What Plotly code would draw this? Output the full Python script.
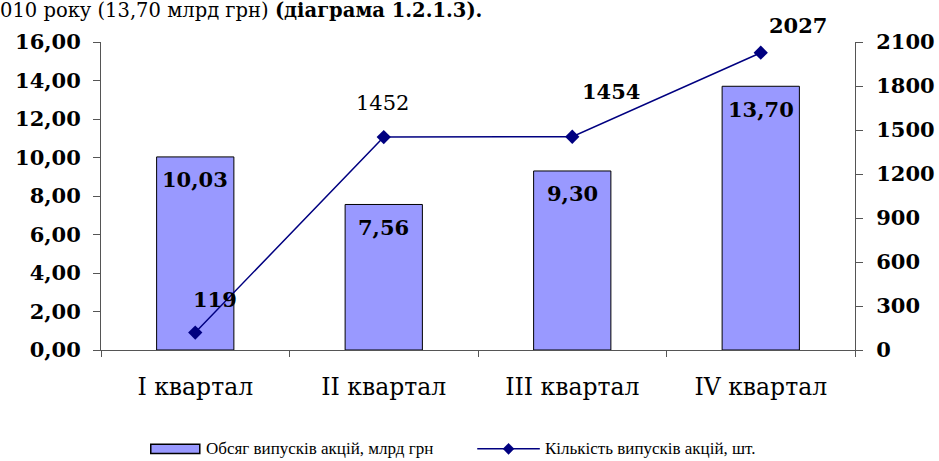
import plotly.graph_objects as go

categories = ["I квартал", "II квартал", "III квартал", "IV квартал"]
volume = [10.03, 7.56, 9.30, 13.70]          # млрд грн
count = [119, 1452, 1454, 2027]              # шт.
volume_labels = ["10,03", "7,56", "9,30", "13,70"]
count_labels = ["119", "1452", "1454", "2027"]
legend_names = ["Обсяг випусків акцій, млрд грн", "Кількість випусків акцій, шт."]

SERIF = "DejaVu Serif, Liberation Serif, serif"
NAVY = "#000080"

fig = go.Figure()
fig.add_trace(go.Bar(
    x=categories, y=volume, name=legend_names[0],
    marker=dict(color="#9999FF", line=dict(color="black", width=1)),
    width=0.41, showlegend=False,
))
fig.add_trace(go.Scatter(
    x=categories, y=count, name=legend_names[1],
    yaxis="y2", mode="lines+markers", showlegend=False,
    line=dict(color=NAVY, width=1.5),
    marker=dict(symbol="diamond", size=11, color=NAVY),
))

# bar value labels (inside, near top)
for c, v, t in zip(categories, volume, volume_labels):
    fig.add_annotation(x=c, y=v, yref="y", text="<b>%s</b>" % t, showarrow=False,
                       yanchor="middle", yshift=-23,
                       font=dict(family=SERIF, size=21, color="black"))

# line labels
offsets = [(20, 33), (-1, 34), (39, 45), (37, 27)]
bold = [True, False, True, True]
for c, v, t, (dx, dy), b in zip(categories, count, count_labels, offsets, bold):
    fig.add_annotation(x=c, y=v, yref="y2", text=("<b>%s</b>" % t) if b else t,
                       showarrow=False, xshift=dx, yshift=dy,
                       font=dict(family=SERIF, size=21, color="black"))

# cut-off caption line at the very top
fig.add_annotation(xref="paper", yref="paper", x=-0.136, y=1.146,
                   xanchor="left", yanchor="top", showarrow=False,
                   text="010 року (13,70 млрд грн) <b>(діаграма 1.2.1.3).</b>",
                   font=dict(family=SERIF, size=19.5, color="black"))

# custom legend (wide rectangle symbol + line with diamond)
LEG_Y = -0.321
fig.add_shape(type="rect", xref="paper", yref="paper",
              x0=0.066, x1=0.131, y0=LEG_Y - 0.015, y1=LEG_Y + 0.015,
              fillcolor="#9999FF", line=dict(color="black", width=1.5))
fig.add_annotation(xref="paper", yref="paper", x=0.137, y=LEG_Y, xanchor="left",
                   yanchor="middle", showarrow=False, text=legend_names[0],
                   font=dict(family="Liberation Serif, serif", size=17, color="black"))
fig.add_shape(type="line", xref="paper", yref="paper",
              x0=0.499, x1=0.582, y0=LEG_Y, y1=LEG_Y, line=dict(color=NAVY, width=1.5))
dx, dy, cx = 0.0073, 0.018, 0.5405
fig.add_shape(type="path", xref="paper", yref="paper",
              path=f"M {cx-dx} {LEG_Y} L {cx} {LEG_Y+dy} L {cx+dx} {LEG_Y} L {cx} {LEG_Y-dy} Z",
              fillcolor=NAVY, line=dict(color=NAVY, width=0.5))
fig.add_annotation(xref="paper", yref="paper", x=0.586, y=LEG_Y, xanchor="left",
                   yanchor="middle", showarrow=False, text=legend_names[1],
                   font=dict(family="Liberation Serif, serif", size=17, color="black"))

fig.update_layout(
    width=939, height=461,
    margin=dict(l=101, r=84, t=42, b=111, autoexpand=False),
    paper_bgcolor="white", plot_bgcolor="white",
    separators=", ",
    showlegend=False,
    xaxis=dict(showline=True, linecolor="#555", linewidth=1, ticks="outside",
               tickson="boundaries", ticklen=6, tickcolor="#555",
               tickfont=dict(family=SERIF, size=23.5, color="black"),
               ticklabelstandoff=16, showgrid=False),
    yaxis=dict(range=[0, 16], dtick=2, tickformat=".2f", showline=True,
               linecolor="#555", linewidth=1, ticks="outside", ticklen=7, tickcolor="#555",
               tickfont=dict(family=SERIF, size=21, color="black", weight="bold"),
               ticklabelstandoff=8, showgrid=False, zeroline=False),
    yaxis2=dict(range=[0, 2100], dtick=300, overlaying="y", side="right",
                showline=True, linecolor="#555", linewidth=1, ticks="outside",
                ticklen=7, tickcolor="#555",
                tickfont=dict(family=SERIF, size=21, color="black", weight="bold"),
                ticklabelstandoff=9, showgrid=False, zeroline=False),
)

fig.write_html("out.html", config={"displayModeBar": False},
               post_script="document.body.style.margin='0px';document.body.style.overflow='hidden';")
